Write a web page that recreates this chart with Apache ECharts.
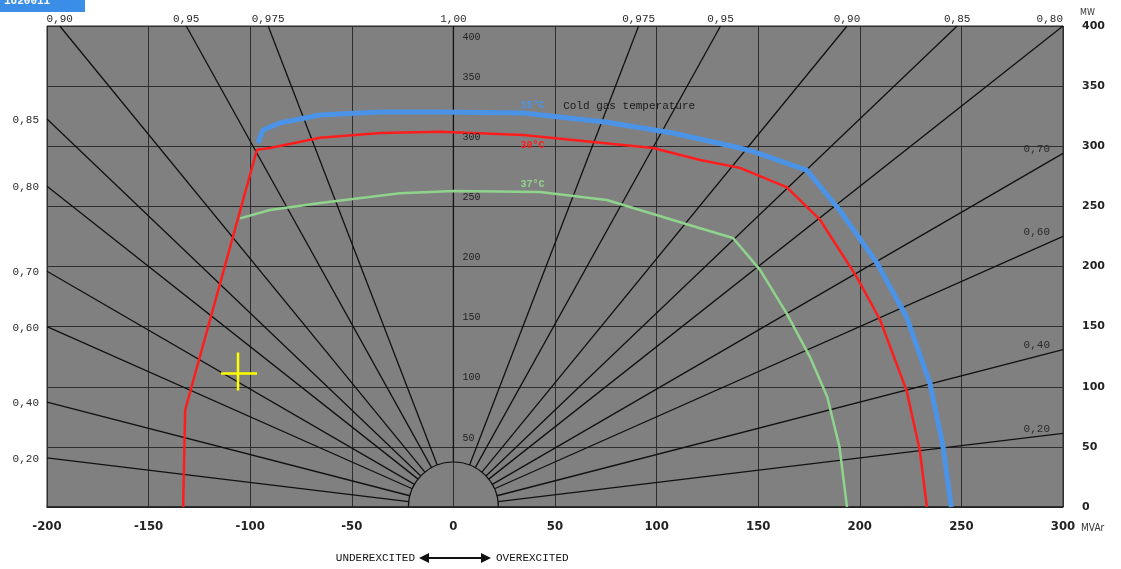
<!DOCTYPE html>
<html><head><meta charset="utf-8">
<script src="https://cdn.jsdelivr.net/npm/echarts@6/dist/echarts.min.js"></script>
<style>html,body{margin:0;padding:0;background:#fff}#c{width:1121px;height:569px}</style>
</head><body><div id="c"></div>
<script>
// ---- data ----
const xTicks = [-200, -150, -100, -50, 0, 50, 100, 150, 200, 250, 300];
const yTicks = [0, 50, 100, 150, 200, 250, 300, 350, 400];
const pfValues = [0.975, 0.95, 0.90, 0.85, 0.80, 0.70, 0.60, 0.40, 0.20];
const pfLabels = ['0,975', '0,95', '0,90', '0,85', '0,80', '0,70', '0,60', '0,40', '0,20'];
const unityLabel = '1,00';
const curveNames = ['15°C', '30°C', '37°C'];
const legendTitle = 'Cold gas temperature';
const curve15 = [[-96.2,302.7],[-93.8,313.5],[-85.4,319.3],[-65.7,326],[-36.1,328.5],[-6.6,328.5],[34.2,327.7],[75.5,320],[108,311],[141,298.5],[147,296],[174,280],[190,247],[208.4,203],[223,158],[234.5,103],[241,50],[245,0]];
const curve30 = [[-133,0],[-132,80.7],[-96.7,297],[-90.3,298.5],[-65.6,307],[-36,311],[-6.6,312],[34.2,309.4],[68.8,303.5],[98.3,298.5],[121.4,288.6],[141,282],[164,266],[180.5,238.7],[198.6,191],[210,155.5],[223,97],[229.5,47.4],[233,0]];
const curve37 = [[-105,240],[-90.3,247],[-65.6,252.8],[-26.3,261],[0.3,262.8],[42.6,262],[75.5,255.3],[121,232],[137.6,223.7],[151,197],[164,161],[175.5,124.7],[184,91.5],[190,50],[193.7,0]];
const operatingPoint = [[-106, 111]];
const legendAnchors = [[33, 333.5], [33, 301], [33, 268], [54, 333.5]];

// ---- layout helpers ----
const xMin = xTicks[0], xMax = xTicks[xTicks.length - 1];
const yMin = yTicks[0], yMax = yTicks[yTicks.length - 1];
const colors = ['#4b93e6', '#ff1c1c', '#90d38c'];
const HUB_R = 45;

const pfData = [];
[-1, 1].forEach(side => {
  pfValues.forEach((pf, i) => {
    const r = Math.sqrt(1 - pf * pf) / pf;
    let q = side * r * yMax, p = yMax, edge = 'top';
    if (q < xMin) { q = xMin; p = -xMin / r; edge = 'left'; }
    else if (q > xMax + 1e-6) { q = xMax; p = xMax / r; edge = 'right'; }
    pfData.push([q, p, pfLabels[i], edge]);
  });
});
pfData.push([0, yMax, unityLabel, 'top']);

const monoFont = "'Liberation Mono','DejaVu Sans Mono',monospace";

const chart = echarts.init(document.getElementById('c'), null, {renderer: 'canvas'});
chart.setOption({
  animation: false,
  backgroundColor: '#ffffff',
  grid: {left: 47, right: 58, top: 26, bottom: 62, show: true, backgroundColor: '#808080', borderColor: '#2a2a2a', borderWidth: 1},
  xAxis: {
    type: 'value', min: xMin, max: xMax, interval: 50,
    name: 'MVAr', nameLocation: 'end', nameGap: 18,
    nameTextStyle: {fontSize: 10, color: '#333', fontFamily: "'DejaVu Sans Condensed','DejaVu Sans',sans-serif", verticalAlign: 'top', padding: [16, 0, 0, 0]},
    axisLine: {show: true, onZero: false, lineStyle: {color: '#222', width: 1.5}},
    axisTick: {show: false},
    axisLabel: {margin: 13, color: '#222', fontSize: 13, fontWeight: 'bold', fontFamily: "'DejaVu Sans Condensed','Liberation Sans Narrow',sans-serif"},
    splitLine: {show: true, lineStyle: {color: '#2e2e2e', width: 1}}
  },
  yAxis: {
    type: 'value', min: yMin, max: yMax, interval: 50, position: 'right',
    name: 'MW', nameLocation: 'end', nameGap: 9,
    nameTextStyle: {fontSize: 8, color: '#333', fontFamily: "'DejaVu Sans',sans-serif", align: 'left', padding: [0, 0, 0, 17]},
    axisLine: {show: false, onZero: false}, axisTick: {show: false},
    axisLabel: {margin: 19, color: '#222', fontSize: 11, fontWeight: 'bold', fontFamily: "'DejaVu Sans',sans-serif", padding: [0, 0, 4, 0]},
    splitLine: {show: true, lineStyle: {color: '#2e2e2e', width: 1}}
  },
  series: [
    { // power-factor rays
      type: 'custom', data: pfData, encode: {x: 0, y: 1}, z: 2, clip: false, silent: true,
      renderItem: function (params, api) {
        const o = api.coord([0, 0]);
        const e = api.coord([api.value(0), api.value(1)]);
        const dx = e[0] - o[0], dy = e[1] - o[1], L = Math.hypot(dx, dy);
        return {type: 'line', shape: {x1: o[0] + dx / L * HUB_R, y1: o[1] + dy / L * HUB_R, x2: e[0], y2: e[1]},
          style: {stroke: '#111', lineWidth: 1.3}};
      }
    },
    { // power-factor labels
      type: 'custom', data: pfData, encode: {x: 0, y: 1}, z: 6, clip: false, silent: true,
      renderItem: function (params, api) {
        const d = pfData[params.dataIndex];
        const e = api.coord([d[0], d[1]]);
        let x = e[0], y = e[1], align = 'center', va = 'bottom';
        if (d[3] === 'top') { y = e[1] - 1; if (d[0] > xMax - 10) { align = 'right'; } }
        else if (d[3] === 'left') { x = e[0] - 8; y = e[1] + 1; align = 'right'; va = 'middle'; }
        else { x = e[0] - 13; y = e[1] - 4; align = 'right'; va = 'middle'; }
        return {type: 'text', style: {text: d[2], x: x, y: y, align: align, verticalAlign: va,
          fill: '#2a2a2a', font: '11px ' + monoFont}};
      }
    },
    { // hub semicircle
      type: 'custom', data: [[0, 0]], encode: {x: 0, y: 1}, z: 3, clip: false, silent: true,
      renderItem: function (params, api) {
        const o = api.coord([0, 0]);
        return {type: 'arc', shape: {cx: o[0], cy: o[1], r: HUB_R, startAngle: Math.PI, endAngle: 2 * Math.PI, clockwise: true},
          style: {stroke: '#111', lineWidth: 1.2, fill: null}};
      }
    },
    { // inner MW tick labels
      type: 'custom', data: yTicks.filter(v => v > 0).map(v => [0, v]), encode: {x: 0, y: 1}, z: 6, clip: false, silent: true,
      renderItem: function (params, api) {
        const v = api.value(1);
        const c = api.coord([0, v]);
        const top = v >= yMax;
        return {type: 'text', style: {text: String(v), x: c[0] + 9, y: top ? c[1] + 11 : c[1] - 9,
          align: 'left', verticalAlign: 'middle', fill: '#222', font: '10px ' + monoFont}};
      }
    },
    {name: curveNames[0], type: 'line', data: curve15, showSymbol: false, z: 5, lineStyle: {color: colors[0], width: 5}, silent: true},
    {name: curveNames[1], type: 'line', data: curve30, showSymbol: false, z: 5, lineStyle: {color: colors[1], width: 2.5}, silent: true},
    {name: curveNames[2], type: 'line', data: curve37, showSymbol: false, z: 5, lineStyle: {color: colors[2], width: 2.5}, silent: true},
    { // curve labels
      type: 'custom', data: legendAnchors, encode: {x: 0, y: 1}, z: 6, clip: false, silent: true,
      renderItem: function (params, api) {
        const i = params.dataIndex;
        const c = api.coord([api.value(0), api.value(1)]);
        const txt = i < 3 ? curveNames[i] : legendTitle;
        const fill = i < 3 ? colors[i] : '#1a1a1a';
        return {type: 'text', style: {text: txt, x: c[0], y: c[1], align: 'left', verticalAlign: 'middle',
          fill: fill, font: (i < 3 ? 'bold 10px ' : '11px ') + monoFont}};
      }
    },
    { // operating point cross
      type: 'custom', data: operatingPoint, encode: {x: 0, y: 1}, z: 7, clip: false, silent: true,
      renderItem: function (params, api) {
        const c = api.coord([api.value(0), api.value(1)]);
        return {type: 'group', children: [
          {type: 'line', shape: {x1: c[0] - 17, y1: c[1], x2: c[0] + 19, y2: c[1]}, style: {stroke: '#ffff00', lineWidth: 2.5}},
          {type: 'line', shape: {x1: c[0], y1: c[1] - 21, x2: c[0], y2: c[1] + 17}, style: {stroke: '#ffff00', lineWidth: 2.5}}
        ]};
      }
    }
  ],
  graphic: [
    {type: 'rect', left: 0, top: 0, shape: {width: 85, height: 12}, style: {fill: '#3b8ee8'}, z: 10},
    {type: 'text', x: 4, y: -4, style: {text: '1U20011', fill: '#ffffff', font: 'bold 11px ' + monoFont, align: 'left', verticalAlign: 'top'}, z: 11},
    {type: 'text', x: 415, y: 558, style: {text: 'UNDEREXCITED', fill: '#111', font: '11px ' + monoFont, align: 'right', verticalAlign: 'middle'}},
    {type: 'line', shape: {x1: 424, y1: 558, x2: 486, y2: 558}, style: {stroke: '#111', lineWidth: 2}},
    {type: 'polygon', shape: {points: [[419, 558], [429, 553], [429, 563]]}, style: {fill: '#111'}},
    {type: 'polygon', shape: {points: [[491, 558], [481, 553], [481, 563]]}, style: {fill: '#111'}},
    {type: 'text', x: 496, y: 558, style: {text: 'OVEREXCITED', fill: '#111', font: '11px ' + monoFont, align: 'left', verticalAlign: 'middle'}}
  ]
});
</script></body></html>
